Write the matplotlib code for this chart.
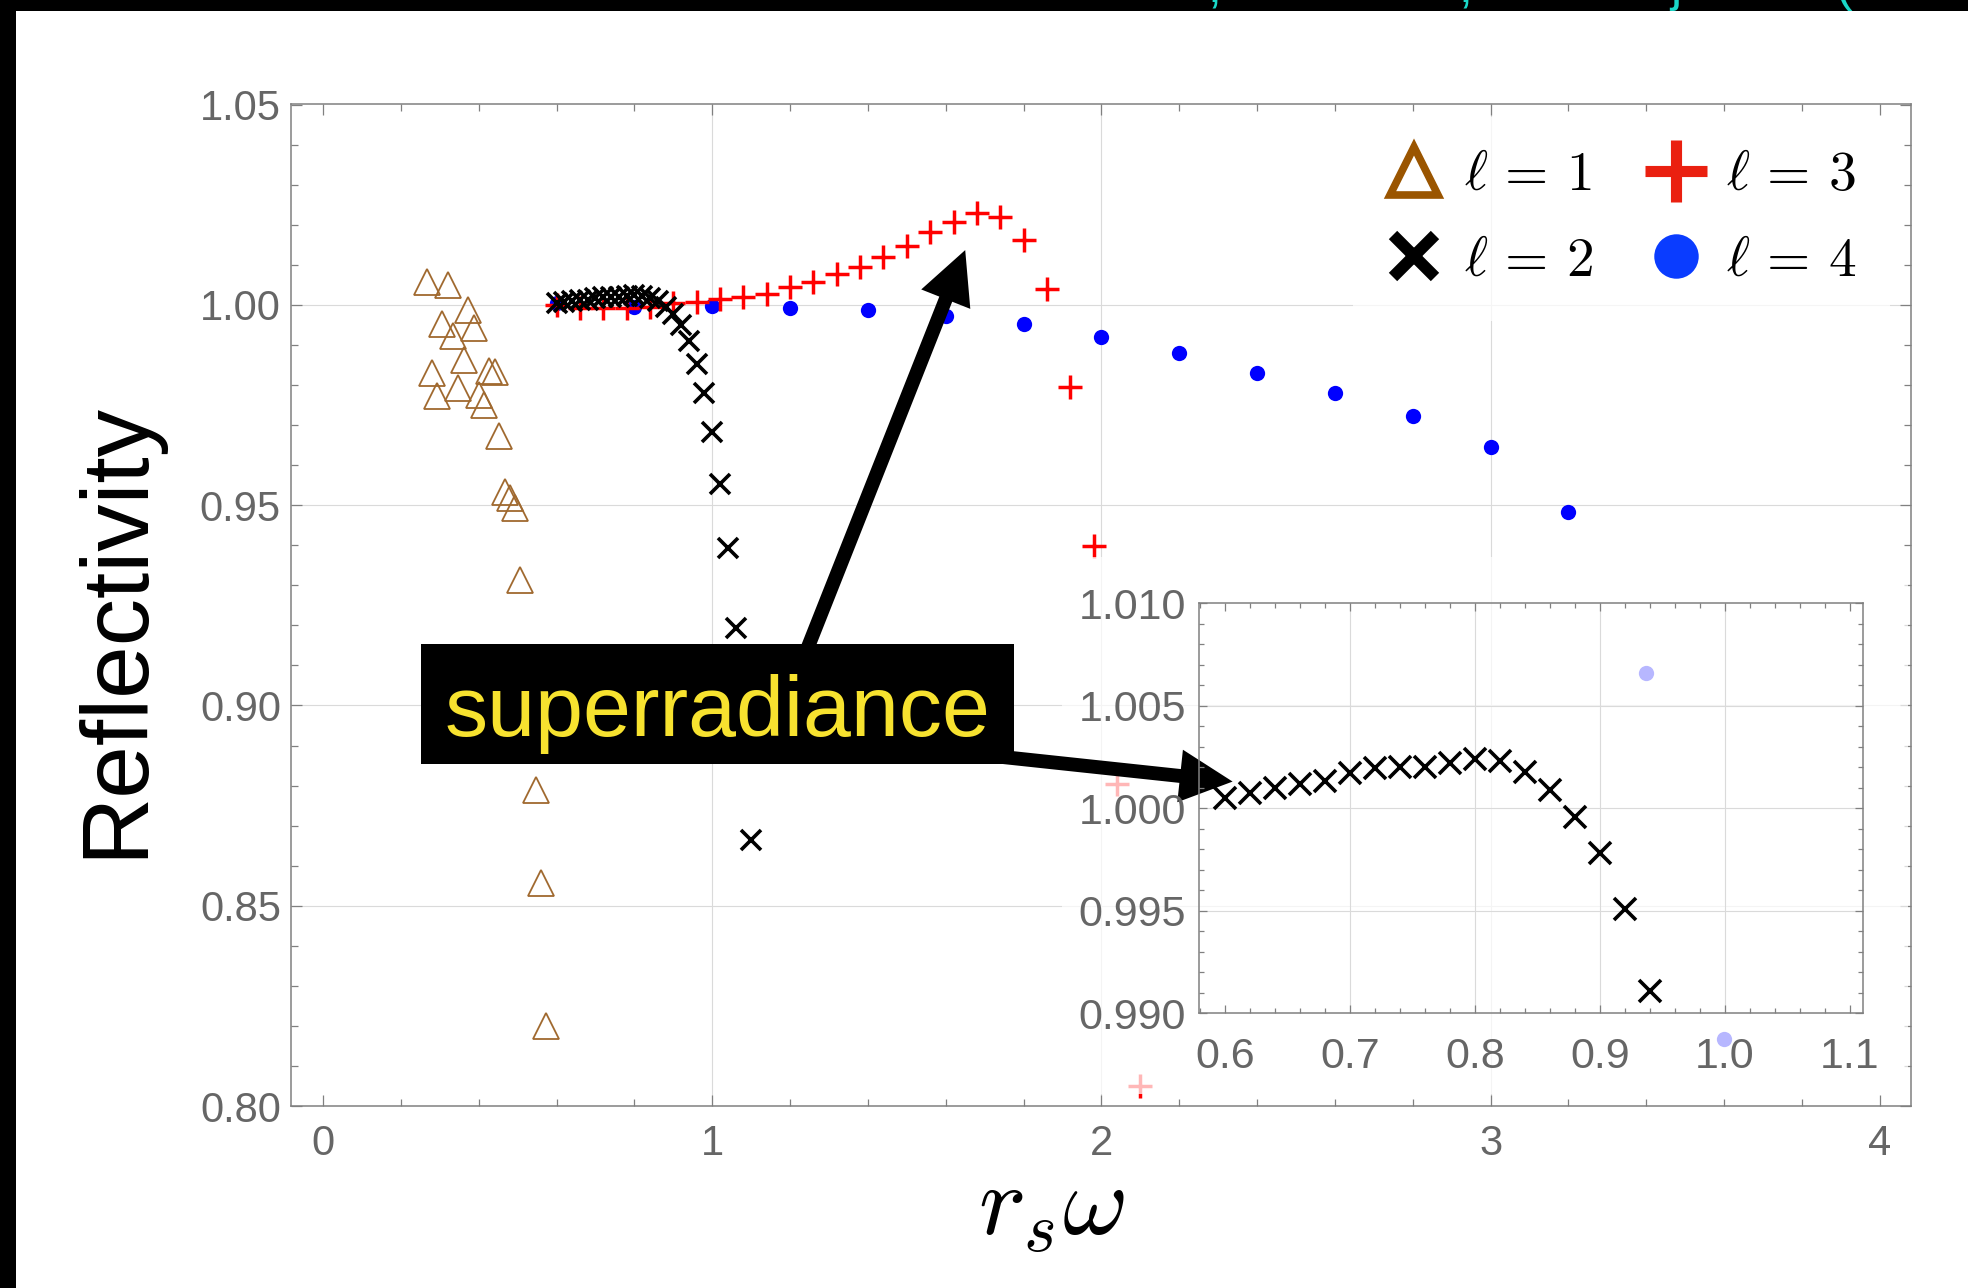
import numpy as np
import matplotlib.pyplot as plt
from matplotlib.lines import Line2D
from matplotlib.patches import Rectangle, FancyArrowPatch
from matplotlib.ticker import MultipleLocator, FormatStrFormatter

plt.rcParams['font.family'] = ['Liberation Sans', 'DejaVu Sans']
plt.rcParams['mathtext.fontset'] = 'cm'

# ---- reflectivity vs r_s*omega for each multipole ----
x_l1 = [0.266, 0.320, 0.373, 0.307, 0.388, 0.333, 0.361, 0.281, 0.427, 0.442, 0.294,
        0.346, 0.402, 0.414, 0.453, 0.468, 0.481, 0.493, 0.507, 0.546, 0.560, 0.574]
y_l1 = [1.0058, 1.0050, 0.9988, 0.9953, 0.9942, 0.9923, 0.9862, 0.9830, 0.9835, 0.9832, 0.9772,
        0.9792, 0.9776, 0.9751, 0.9673, 0.9533, 0.9519, 0.9493, 0.9314, 0.8788, 0.8556, 0.8199]

x_l2 = [0.60, 0.62, 0.64, 0.66, 0.68, 0.70, 0.72, 0.74, 0.76, 0.78, 0.80, 0.82, 0.84,
        0.86, 0.88, 0.90, 0.92, 0.94, 0.96, 0.98, 1.00, 1.02, 1.04, 1.06, 1.10]
y_l2 = [1.00050, 1.00075, 1.00099, 1.00120, 1.00135, 1.00172, 1.00196, 1.00200, 1.00201,
        1.00221, 1.00242, 1.00232, 1.00177, 1.00088, 0.99958, 0.99783, 0.99510, 0.99109,
        0.9853, 0.9780, 0.9684, 0.9553, 0.9393, 0.9193, 0.8664]

x_l3 = [0.60, 0.66, 0.72, 0.78, 0.84, 0.90, 0.96, 1.02, 1.08, 1.14, 1.20, 1.26, 1.32,
        1.38, 1.44, 1.50, 1.56, 1.62, 1.68, 1.74, 1.80, 1.86, 1.92, 1.98, 2.04, 2.10]
y_l3 = [1.0000, 0.9992, 0.9992, 0.9993, 0.9996, 1.0006, 1.0007, 1.0014, 1.0021, 1.0028,
        1.0045, 1.0058, 1.0077, 1.0096, 1.0119, 1.0148, 1.0183, 1.0208, 1.0229, 1.0219,
        1.0162, 1.0039, 0.9796, 0.9397, 0.8803, 0.8050]

x_l4 = [0.6, 0.8, 1.0, 1.2, 1.4, 1.6, 1.8, 2.0, 2.2, 2.4, 2.6, 2.8, 3.0, 3.2, 3.4, 3.6]
y_l4 = [1.0004, 0.9996, 0.9998, 0.9993, 0.9988, 0.9973, 0.9952, 0.9919, 0.9881, 0.9831,
        0.9780, 0.9724, 0.9646, 0.9484, 0.9082, 0.8168]

labels = [r'$\ell\,=\,1$', r'$\ell\,=\,2$', r'$\ell\,=\,3$', r'$\ell\,=\,4$']

main_xticks = [0, 1, 2, 3, 4]
main_yticks = [0.80, 0.85, 0.90, 0.95, 1.00, 1.05]
inset_xticks = [0.6, 0.7, 0.8, 0.9, 1.0, 1.1]
inset_yticks = [0.990, 0.995, 1.000, 1.005, 1.010]

BROWN = '#a0692f'
SPINE = '#808080'
LABEL = '#666666'
GRID = '#dadada'

W, H = 1968, 1288
fig = plt.figure(figsize=(W / 100, H / 100), dpi=100)
fig.patch.set_facecolor('white')


def style_frame(a, xpad, ypad, size, major, minor):
    for s in a.spines.values():
        s.set_color(SPINE)
        s.set_linewidth(1.1)
    a.tick_params(which='both', direction='in', top=True, right=True,
                  color=SPINE, labelcolor=LABEL, labelsize=size, width=0.9)
    a.tick_params(which='major', length=major)
    a.tick_params(which='minor', length=minor)
    a.tick_params(axis='x', pad=xpad)
    a.tick_params(axis='y', pad=ypad)


# ---- main panel ----
ax = fig.add_axes([290.7 / W, 1 - 1106 / H, (1911 - 290.7) / W, (1106 - 104.3) / H])
style_frame(ax, 13, 7, 30, 8, 4.7)
ax.set_xticks(main_xticks)
ax.set_yticks(main_yticks)
ax.xaxis.set_minor_locator(MultipleLocator(0.2))
ax.yaxis.set_minor_locator(MultipleLocator(0.01))
ax.yaxis.set_major_formatter(FormatStrFormatter('%.2f'))
for v in main_xticks[1:-1]:
    ax.axvline(v, color=GRID, lw=0.8, zorder=0.5)
for v in main_yticks[1:-1]:
    ax.axhline(v, color=GRID, lw=0.8, zorder=0.5)

ax.plot(x_l4, y_l4, ls='none', marker='o', ms=11, mfc='#0000ff', mec='none', zorder=3)
ax.plot(x_l3, y_l3, ls='none', marker='+', ms=17.5, mec='#ff0000', mew=2.5, zorder=3.1)
ax.plot(x_l2, y_l2, ls='none', marker='x', ms=14.5, mec='black', mew=2.6, zorder=3.2)
ax.plot(x_l1, y_l1, ls='none', marker='^', ms=19, mfc='none', mec=BROWN, mew=1.3, zorder=3.3)

# translucent backdrop behind the zoomed panel
ax.add_artist(Rectangle((1062 / W, 1 - 1094 / H), 846 / W, 537 / H, transform=fig.transFigure,
                        fc='white', ec='none', alpha=0.72, zorder=4, clip_on=False))

handles = [
    Line2D([], [], ls='none', marker='^', ms=34, mfc='none', mec='#9a5500', mew=5.5),
    Line2D([], [], ls='none', marker='x', ms=30, mec='black', mew=8.5),
    Line2D([], [], ls='none', marker='+', ms=44, mec='#ea2010', mew=8),
    Line2D([], [], ls='none', marker='o', ms=32, mfc='#0a3cff', mec='none'),
]
leg = ax.legend(handles, labels, ncol=2, loc='upper right', bbox_to_anchor=(0.987, 0.9875),
                fontsize=40, frameon=True, fancybox=False, framealpha=0.75,
                facecolor='white', edgecolor='none', handlelength=1.0, handletextpad=0.4,
                columnspacing=1.0, labelspacing=0.6, borderpad=0.6, borderaxespad=0)
leg.set_zorder(5)

# superradiance call-out
ax.add_patch(Rectangle((0.251, 0.8855), 1.524, 0.0299, fc='black', ec='none', zorder=6))
ax.text(1.013, 0.8924, 'superradiance', color='#f7e22f', fontsize=62,
        ha='center', va='baseline', zorder=7)
arrow = 'simple,head_length=38,head_width=38,tail_width=10'
ax.add_patch(FancyArrowPatch((1.233, 0.9114), (1.650, 1.0137), arrowstyle=arrow,
                             mutation_scale=1, fc='black', ec='none', shrinkA=0, shrinkB=0,
                             zorder=6, clip_on=False))
ax.add_patch(FancyArrowPatch((1.740, 0.8872), (2.337, 0.8810), arrowstyle=arrow,
                             mutation_scale=1, fc='black', ec='none', shrinkA=0, shrinkB=0,
                             zorder=6, clip_on=False))

ax.set_xlim(-0.083, 4.08)
ax.set_ylim(0.80, 1.0501)

# ---- zoomed panel on the l = 2 branch ----
axin = fig.add_axes([1199.3 / W, 1 - 1013.3 / H, 664.1 / W, 410 / H])
axin.set_facecolor('none')
style_frame(axin, 17, 9.5, 31, 6, 3.3)
axin.set_xticks(inset_xticks)
axin.set_yticks(inset_yticks)
axin.xaxis.set_minor_locator(MultipleLocator(0.02))
axin.yaxis.set_minor_locator(MultipleLocator(0.001))
axin.xaxis.set_major_formatter(FormatStrFormatter('%.1f'))
axin.yaxis.set_major_formatter(FormatStrFormatter('%.3f'))
for v in inset_xticks[1:-1]:
    axin.axvline(v, color=GRID, lw=0.8, zorder=0.5)
for v in inset_yticks[1:-1]:
    axin.axhline(v, color=GRID, lw=0.8, zorder=0.5)
axin.plot(x_l2, y_l2, ls='none', marker='x', ms=16, mec='black', mew=2.6, zorder=3)
axin.set_xlim(0.5794, 1.1107)
axin.set_ylim(0.990, 1.010)

# axis titles
fig.text(117 / W, 1 - 630 / H, 'Reflectivity', rotation=90, fontsize=68,
         ha='center', va='center')
fig.text(978 / W, 1 - 1235 / H, r'$r_s\omega$', fontsize=72, ha='left', va='baseline')

# dark slide border with the cut-off heading above
fig.add_artist(Rectangle((0, 0), 16 / W, 1, transform=fig.transFigure,
                         fc='black', ec='none', zorder=10))
fig.add_artist(Rectangle((0, 1 - 11 / H), 1, 11 / H, transform=fig.transFigure,
                         fc='black', ec='none', zorder=10))
for xp, s in [(1208, ','), (1459, ','), (1670, 'j'), (1836, '(')]:
    fig.text(xp / W, 1 - 1 / H, s, color='#1ad8c8', fontsize=36,
             ha='left', va='baseline', zorder=11)

fig.savefig('out.png', dpi=100, facecolor=fig.get_facecolor())
